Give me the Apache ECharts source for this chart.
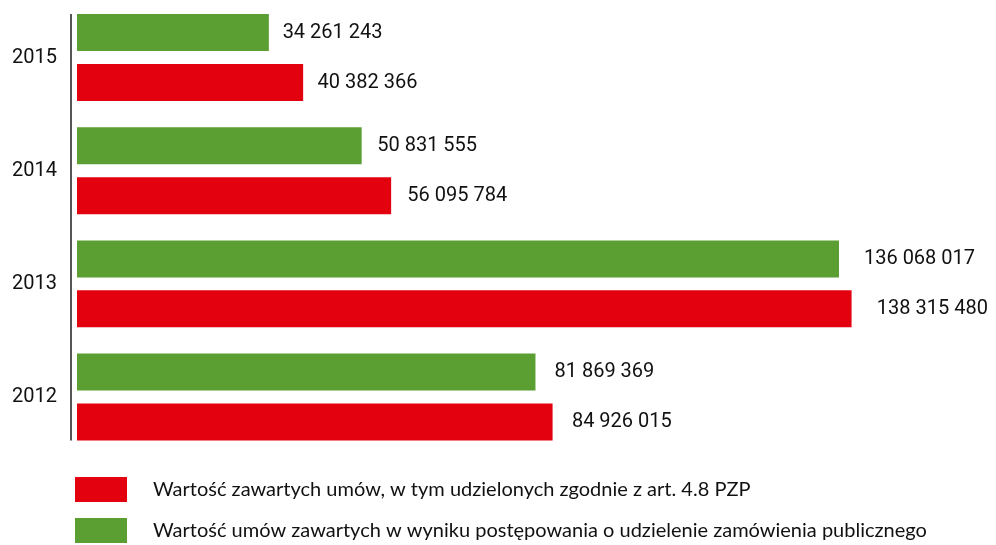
<!DOCTYPE html>
<html>
<head>
<meta charset="utf-8">
<script src="https://cdn.jsdelivr.net/npm/echarts@6/dist/echarts.min.js"></script>
<style>
  html, body { margin: 0; padding: 0; background: #fff; }
  #chart { width: 996px; height: 545px; }
</style>
</head>
<body>
<div id="chart"></div>
<script>
// Years, bottom to top
const years = ['2012', '2013', '2014', '2015'];

// Wartość zawartych umów, w tym udzielonych zgodnie z art. 4.8 PZP
const totalContracts = [84926015, 138315480, 56095784, 40382366];

// Wartość umów zawartych w wyniku postępowania o udzielenie zamówienia publicznego
const tenderContracts = [81869369, 136068017, 50831555, 34261243];

const seriesNames = [
  'Wartość zawartych umów, w tym udzielonych zgodnie z art. 4.8 PZP',
  'Wartość umów zawartych w wyniku postępowania o udzielenie zamówienia publicznego'
];

const RED = '#e3000f';
const GREEN = '#5b9f33';

function spaced(v) {
  return String(v).replace(/\B(?=(\d{3})+(?!\d))/g, ' ');
}

// value labels sit a little further out on longer bars
function withLabels(values) {
  return values.map(v => ({
    value: v,
    label: { distance: 10 + v * 0.11e-6 }
  }));
}

const chart = echarts.init(document.getElementById('chart'), null, { renderer: 'canvas' });

const barLabel = {
  show: true,
  position: 'right',
  color: '#111',
  fontFamily: 'Roboto',
  fontSize: 20,
  formatter: p => spaced(p.value)
};

chart.setOption({
  animation: false,
  grid: { left: 77, right: 23, top: 1, bottom: 91.4, containLabel: false },
  xAxis: {
    type: 'value',
    min: 0,
    max: 160000000,
    show: false
  },
  yAxis: {
    type: 'category',
    data: years,
    axisLine: { show: false },
    axisTick: { show: false },
    axisLabel: {
      margin: 20,
      color: '#111',
      fontFamily: 'Roboto',
      fontSize: 20
    }
  },
  legend: {
    orient: 'vertical',
    left: 75,
    top: 477,
    padding: 0,
    itemWidth: 52,
    itemHeight: 25,
    itemGap: 16,
    icon: 'rect',
    textStyle: {
      fontFamily: 'Lato',
      fontSize: 20,
      color: '#111',
      padding: [0, 0, 0, 21]
    },
    data: seriesNames
  },
  // green bar sits above the red one within each year
  series: [
    {
      name: seriesNames[1],
      type: 'bar',
      barWidth: 37,
      barGap: '35%',
      itemStyle: { color: GREEN },
      label: barLabel,
      data: withLabels(tenderContracts)
    },
    {
      name: seriesNames[0],
      type: 'bar',
      barWidth: 37,
      barGap: '35%',
      itemStyle: { color: RED },
      label: barLabel,
      data: withLabels(totalContracts)
    }
  ]
});

// vertical rule spanning from the top bar to the bottom bar
const halfGroup = (37 * 2 + 37 * 0.35) / 2;
const yTop = chart.convertToPixel({ yAxisIndex: 0 }, years[years.length - 1]) - halfGroup;
const yBottom = chart.convertToPixel({ yAxisIndex: 0 }, years[0]) + halfGroup;
chart.setOption({
  graphic: [{
    type: 'line',
    shape: { x1: 71, y1: yTop, x2: 71, y2: yBottom },
    style: { stroke: '#555', lineWidth: 2 }
  }]
});
</script>
</body>
</html>
